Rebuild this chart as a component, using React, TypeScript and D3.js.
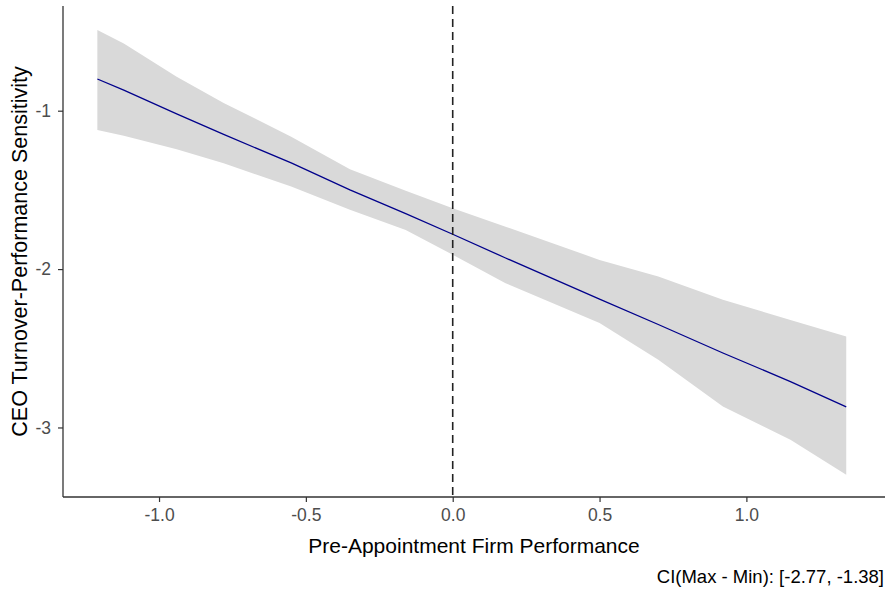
import React, { useEffect, useRef } from "react";
import * as d3 from "d3";

// values
const performance = [-1.21, -1.12, -0.94, -0.78, -0.55, -0.35, -0.16, 0, 0.18, 0.5, 0.7, 0.92, 1.15, 1.34];
const sensitivity = [-0.8, -0.87, -1.02, -1.15, -1.33, -1.5, -1.65, -1.78, -1.93, -2.19, -2.35, -2.53, -2.71, -2.87];
const ciUpper = [-0.49, -0.575, -0.785, -0.951, -1.164, -1.37, -1.505, -1.616, -1.732, -1.942, -2.047, -2.194, -2.321, -2.426];
const ciLower = [-1.122, -1.158, -1.244, -1.332, -1.479, -1.626, -1.753, -1.91, -2.089, -2.341, -2.573, -2.868, -3.078, -3.298];

const xTicks = [-1.0, -0.5, 0.0, 0.5, 1.0];
const yTicks = [-1, -2, -3];

const xTitle = "Pre-Appointment Firm Performance";
const yTitle = "CEO Turnover-Performance Sensitivity";
const caption = "CI(Max - Min): [-2.77, -1.38]";

const W = 891;
const H = 593;
const FONT = "'Liberation Sans', Arial, sans-serif";

const App = () => {
  const svgRef = useRef(null);

  useEffect(() => {
    const svg = d3.select(svgRef.current);
    svg.selectAll("*").remove();

    const left = 63, right = 885, top = 6, bottom = 497;

    const xScale = d3.scaleLinear().domain([-1.327, 1.472]).range([left, right]);
    const yScale = d3.scaleLinear().domain([-3.439, -0.339]).range([bottom, top]);

    const rows = performance.map((p, i) => ({
      x: p,
      y: sensitivity[i],
      lo: ciLower[i],
      hi: ciUpper[i],
    }));

    // confidence ribbon
    const area = d3
      .area()
      .x((d) => xScale(d.x))
      .y0((d) => yScale(d.lo))
      .y1((d) => yScale(d.hi));
    svg.append("path").datum(rows).attr("d", area).attr("fill", "#d9d9d9");

    // fitted line
    const line = d3
      .line()
      .x((d) => xScale(d.x))
      .y((d) => yScale(d.y));
    svg
      .append("path")
      .datum(rows)
      .attr("d", line)
      .attr("fill", "none")
      .attr("stroke", "#00008b")
      .attr("stroke-width", 1.3);

    // vertical reference at zero
    svg
      .append("line")
      .attr("x1", xScale(0))
      .attr("x2", xScale(0))
      .attr("y1", top)
      .attr("y2", bottom)
      .attr("stroke", "#222")
      .attr("stroke-width", 1.6)
      .attr("stroke-dasharray", "8,5");

    // axes (plain hyphen for minus, like the original)
    const fmtX = (d) => d3.format(".1f")(d).replace("−", "-");
    const fmtY = (d) => d3.format("d")(d).replace("−", "-");

    const xAxis = d3.axisBottom(xScale).tickValues(xTicks).tickFormat(fmtX).tickSize(5).tickPadding(7);
    const gx = svg.append("g").attr("transform", `translate(0,${bottom})`).call(xAxis);

    const yAxis = d3.axisLeft(yScale).tickValues(yTicks).tickFormat(fmtY).tickSize(5).tickPadding(7);
    const gy = svg.append("g").attr("transform", `translate(${left},0)`).call(yAxis);

    [gx, gy].forEach((g) => {
      g.select(".domain").attr("stroke", "#333").attr("stroke-width", 1.3);
      g.selectAll(".tick line").attr("stroke", "#333").attr("stroke-width", 1.2);
      g.selectAll(".tick text")
        .attr("fill", "#4d4d4d")
        .attr("font-family", FONT)
        .attr("font-size", 17.5);
    });
    gx.select(".domain").attr("d", `M${left},0H${right}`);
    gy.select(".domain").attr("d", `M0,${top}V${bottom}`);

    // titles
    svg
      .append("text")
      .attr("x", (left + right) / 2)
      .attr("y", 553)
      .attr("text-anchor", "middle")
      .attr("font-family", FONT)
      .attr("font-size", 21)
      .attr("fill", "#000")
      .text(xTitle);

    svg
      .append("text")
      .attr("transform", `translate(27,${(top + bottom) / 2}) rotate(-90)`)
      .attr("text-anchor", "middle")
      .attr("font-family", FONT)
      .attr("font-size", 21.5)
      .attr("fill", "#000")
      .text(yTitle);

    svg
      .append("text")
      .attr("x", 884)
      .attr("y", 583)
      .attr("text-anchor", "end")
      .attr("font-family", FONT)
      .attr("font-size", 18.5)
      .attr("fill", "#000")
      .text(caption);
  }, []);

  return (
    <svg
      ref={svgRef}
      width={W}
      height={H}
      style={{ position: "absolute", left: 0, top: 0, background: "#fff" }}
    />
  );
};

export default App;
